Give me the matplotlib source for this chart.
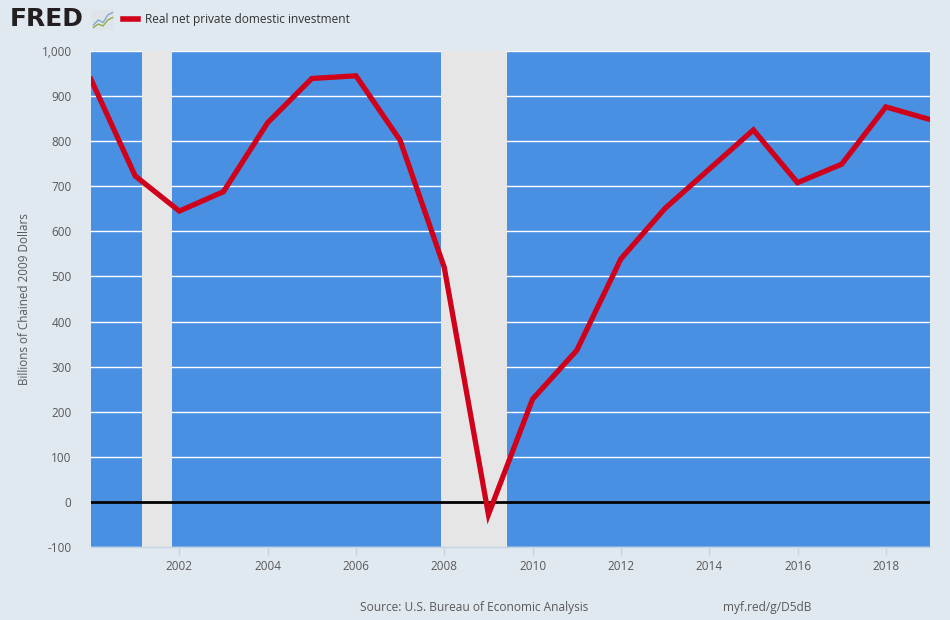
import matplotlib
matplotlib.use("Agg")
from matplotlib import pyplot as plt
from matplotlib.ticker import FuncFormatter, MultipleLocator
import numpy as np

plt.rcParams['font.family'] = ['Open Sans', 'DejaVu Sans']

# annual values, billions of chained 2009 dollars
years = np.arange(2000, 2020)
investment = [937, 723, 645, 688, 841, 939, 945, 802, 520, -28,
              228, 336, 539, 651, 738, 825, 708, 749, 876, 848]

# recession periods (decimal years)
recessions = [(2001.16, 2001.83), (2007.92, 2009.41)]

series_name = 'Real net private domestic investment'
y_label = 'Billions of Chained 2009 Dollars'
source_text = 'Source: U.S. Bureau of Economic Analysis'
link_text = 'myf.red/g/D5dB'

page_bg = '#e1e9f0'
plot_bg = '#4a90e2'
band_color = '#e6e6e6'
line_color = '#d0021b'
text_color = '#595959'

fig = plt.figure(figsize=(9.5, 6.2), dpi=100, facecolor=page_bg)
ax = fig.add_axes([91 / 950, 1 - 547 / 620, 839 / 950, 496 / 620])
ax.set_facecolor(plot_bg)

ax.set_xlim(2000, 2019)
ax.set_ylim(-100, 1000)

ax.yaxis.set_major_locator(MultipleLocator(100))
ax.grid(axis='y', color='white', linewidth=1.0, zorder=1)
ax.set_axisbelow(True)

for start, end in recessions:
    ax.axvspan(start, end, color=band_color, linewidth=0, zorder=2)

ax.axhline(0, color='black', linewidth=2, zorder=3)
ax.plot(years, investment, color=line_color, linewidth=3.8,
        solid_joinstyle='miter', zorder=4)

ax.set_xticks(np.arange(2002, 2019, 2))
ax.yaxis.set_major_formatter(FuncFormatter(lambda v, p: f'{int(v):,}'))
ax.tick_params(axis='x', length=6, width=1, color='#c5d3e2', labelcolor=text_color,
               labelsize=8.5, pad=3)
ax.tick_params(axis='y', length=0, labelcolor=text_color, labelsize=8.5, pad=14)

for side in ['top', 'right', 'left']:
    ax.spines[side].set_visible(False)
ax.spines['bottom'].set_color('#c5d3e2')
ax.spines['bottom'].set_linewidth(1)

ax.set_ylabel(y_label, color=text_color, fontsize=8.4)
ax.yaxis.set_label_coords(-0.072, 0.5)

# header: logo and legend
fig.text(10 / 950, 1 - 19 / 620, 'FRED', fontsize=18, fontweight='bold',
         family='DejaVu Sans', color='#231f20', va='center', ha='left')
icon = fig.add_axes([92 / 950, 1 - 30 / 620, 22 / 950, 20 / 620])
icon.set_facecolor('#dfe4e8')
icon.set_xticks([])
icon.set_yticks([])
for s in icon.spines.values():
    s.set_visible(False)
icon.plot([0, 1, 2, 3, 4], [1, 2, 1.5, 3, 3.5], color='#7fa7d0', linewidth=1)
icon.plot([0, 1, 2, 3, 4], [0.5, 1.2, 0.8, 2, 2.5], color='#8fb04a', linewidth=1)
icon.set_xlim(-0.3, 4.3)
icon.set_ylim(0, 4)

fig.add_artist(plt.Line2D([123 / 950, 138 / 950], [1 - 19 / 620, 1 - 19 / 620],
                          color=line_color, linewidth=4, transform=fig.transFigure))
fig.text(145 / 950, 1 - 19 / 620, series_name, fontsize=8.6, color='#333333',
         va='center', ha='left')

fig.text(360 / 950, 1 - 608 / 620, source_text, fontsize=8.6, color=text_color,
         va='center', ha='left')
fig.text(723 / 950, 1 - 608 / 620, link_text, fontsize=8.6, color=text_color,
         va='center', ha='left')

fig.savefig('out.png', dpi=100, facecolor=page_bg)
